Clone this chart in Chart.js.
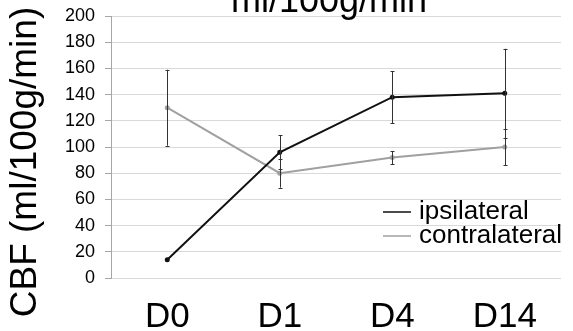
<!DOCTYPE html>
<html>
<head>
<meta charset="utf-8">
<script src="https://cdn.jsdelivr.net/npm/chart.js@4"></script>
<style>
  html, body { margin: 0; padding: 0; background: #fff; }
  #wrap { width: 573px; height: 331px; }
</style>
</head>
<body>
<div id="wrap"><canvas id="cbf"></canvas></div>
<script>
const days = ['D0', 'D1', 'D4', 'D14'];
const ipsiMean = [14, 96, 138, 141];
const ipsiErr = [0, 13, 20, 34];
const contraMean = [130, 80, 92, 100];
const contraErr = [29, 11, 5, 14];
const yTicks = [0, 20, 40, 60, 80, 100, 120, 140, 160, 180, 200];
const titleText = 'ml/100g/min';
const yTitle = 'CBF (ml/100g/min)';

const FONT = "'Liberation Sans', Arial, sans-serif";

// vertical error bars with small caps
const errorBarPlugin = {
  id: 'errorBars',
  afterDatasetsDraw: (chart) => {
    const ctx = chart.ctx;
    const yScale = chart.scales.y;
    ctx.save();
    ctx.strokeStyle = '#333';
    ctx.lineWidth = 1;
    chart.data.datasets.forEach((ds, i) => {
      const meta = chart.getDatasetMeta(i);
      meta.data.forEach((pt, j) => {
        const err = ds.errors[j];
        if (!err) return;
        const top = yScale.getPixelForValue(ds.data[j] + err);
        const bot = yScale.getPixelForValue(ds.data[j] - err);
        const x = Math.round(pt.x) + 0.5;
        ctx.beginPath();
        ctx.moveTo(x, top);
        ctx.lineTo(x, bot);
        ctx.moveTo(x - 2, Math.round(top) + 0.5);
        ctx.lineTo(x + 2, Math.round(top) + 0.5);
        ctx.moveTo(x - 2, Math.round(bot) + 0.5);
        ctx.lineTo(x + 2, Math.round(bot) + 0.5);
        ctx.stroke();
      });
    });
    ctx.restore();
  },
};

// title clipped at the top edge, rotated y title, legend inside the plot
const extrasPlugin = {
  id: 'extras',
  afterDraw: (chart) => {
    const ctx = chart.ctx;
    ctx.save();
    ctx.fillStyle = '#000';
    ctx.font = `36px ${FONT}`;
    ctx.textAlign = 'center';
    ctx.textBaseline = 'alphabetic';
    ctx.fillText(titleText, 329, 12);

    ctx.save();
    ctx.translate(36, 162);
    ctx.rotate(-Math.PI / 2);
    ctx.font = `37px ${FONT}`;
    ctx.fillText(yTitle, 0, 0);
    ctx.restore();

    ctx.font = `26px ${FONT}`;
    ctx.textAlign = 'left';
    ctx.textBaseline = 'middle';
    chart.data.datasets.forEach((ds, i) => {
      const y = 212 + i * 24;
      ctx.strokeStyle = ds.borderColor;
      ctx.lineWidth = 1.5;
      ctx.beginPath();
      ctx.moveTo(383, y);
      ctx.lineTo(411, y);
      ctx.stroke();
      ctx.fillText(ds.label, 419, y);
    });
    ctx.restore();
  },
};

new Chart(document.getElementById('cbf'), {
  type: 'line',
  data: {
    labels: days,
    datasets: [
      {
        label: 'ipsilateral',
        data: ipsiMean,
        errors: ipsiErr,
        borderColor: '#111',
        backgroundColor: '#111',
        borderWidth: 2,
        pointRadius: 1.5,
        tension: 0,
      },
      {
        label: 'contralateral',
        data: contraMean,
        errors: contraErr,
        borderColor: '#a0a0a0',
        backgroundColor: '#a0a0a0',
        borderWidth: 2,
        pointRadius: 1.5,
        tension: 0,
      },
    ],
  },
  options: {
    responsive: true,
    maintainAspectRatio: false,
    animation: false,
    events: [],
    layout: { padding: { left: 0, right: 12, top: 16, bottom: 0 } },
    scales: {
      x: {
        offset: true,
        grid: { display: false },
        border: { display: false },
        ticks: { color: '#000', font: { family: FONT, size: 35 }, padding: 10 },
        afterFit: (scale) => {
          scale.height = 53;
          scale.paddingLeft = 0;
          scale.paddingRight = 0;
        },
      },
      y: {
        min: 0,
        max: 200,
        afterBuildTicks: (scale) => { scale.ticks = yTicks.map((v) => ({ value: v })); },
        grid: { color: '#d9d9d9', tickColor: '#a6a6a6', tickLength: 6 },
        border: { color: '#a6a6a6' },
        ticks: { color: '#000', font: { family: FONT, size: 18 }, padding: 10 },
        afterFit: (scale) => {
          scale.width = 111;
          scale.paddingTop = 0;
          scale.paddingBottom = 0;
        },
      },
    },
    plugins: {
      legend: { display: false },
      tooltip: { enabled: false },
    },
  },
  plugins: [errorBarPlugin, extrasPlugin],
});
</script>
</body>
</html>
